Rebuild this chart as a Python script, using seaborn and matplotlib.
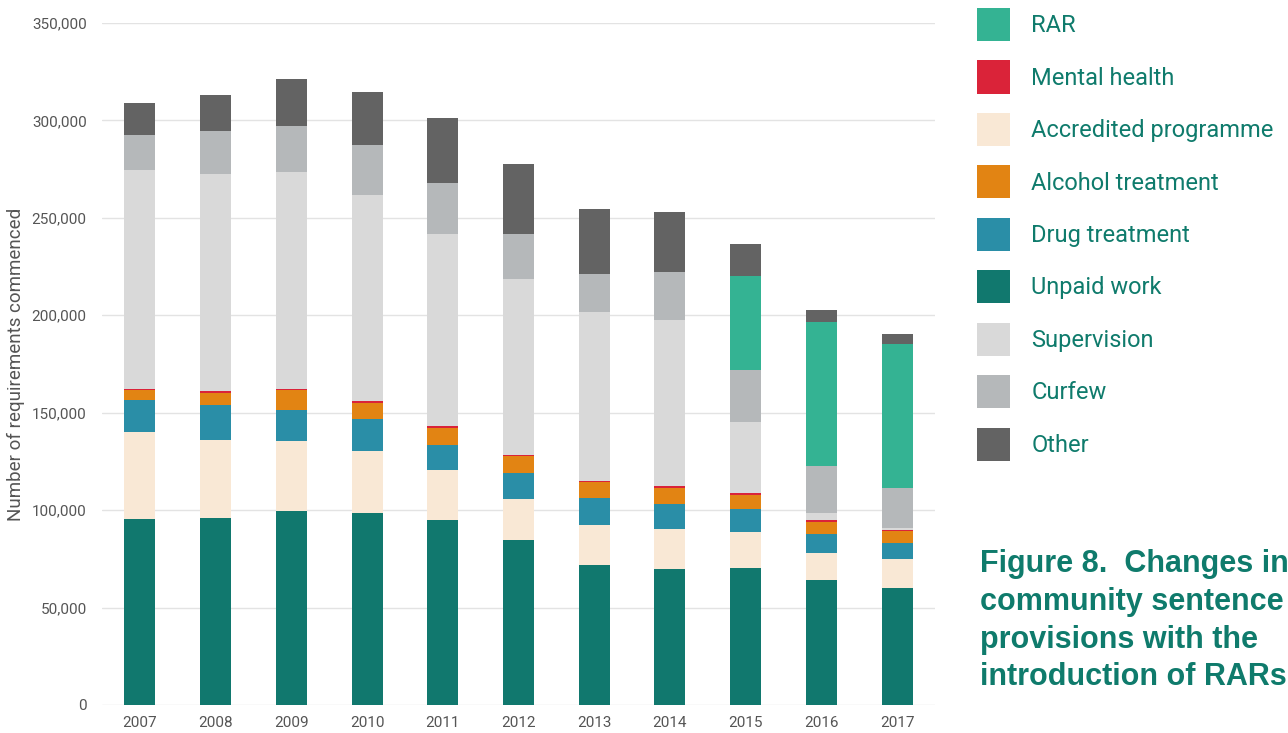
#!/usr/bin/env python3
"""
Stacked bar chart: community sentence requirements commenced, 2007-2017,
with the introduction of RARs.
"""

import numpy as np
import pandas as pd
import seaborn as sns
import matplotlib.pyplot as plt
from matplotlib.patches import Patch

# Data (requirements commenced)
years = ['2007', '2008', '2009', '2010', '2011', '2012',
         '2013', '2014', '2015', '2016', '2017']

unpaid_work = [95400, 96100, 99500, 98500, 94900, 84600,
               71600, 69900, 70400, 64200, 60100]
accredited = [44900, 40100, 36000, 31700, 25500, 21100,
              20700, 20400, 18500, 13600, 14600]
drug_treatment = [16100, 17600, 16100, 16400, 13200, 13200,
                  13700, 13000, 11800, 10100, 8400]
alcohol_treatment = [5100, 6500, 9900, 8400, 8400, 8900,
                     8400, 8200, 7200, 6000, 6000]
mental_health = [900, 900, 900, 1200, 1200, 700,
                 700, 700, 700, 1000, 700]
supervision = [112000, 111500, 111300, 105700, 98500, 90100,
               86700, 85300, 36500, 3600, 1000]
curfew = [18000, 21900, 23500, 25500, 26200, 23100,
          19500, 24700, 26900, 24000, 20700]
rar = [0, 0, 0, 0, 0, 0, 0, 0, 48300, 73800, 73700]
other = [16800, 18500, 24300, 27300, 33600, 36100,
         33100, 30800, 16100, 6500, 5100]

# stacking order, bottom to top
layers = [
    ('Unpaid work', unpaid_work, '#11786e'),
    ('Accredited programme', accredited, '#f9e8d5'),
    ('Drug treatment', drug_treatment, '#2a8ea7'),
    ('Alcohol treatment', alcohol_treatment, '#e28413'),
    ('Mental health', mental_health, '#da2339'),
    ('Supervision', supervision, '#d9d9d9'),
    ('Curfew', curfew, '#b5b8ba'),
    ('RAR', rar, '#34b393'),
    ('Other', other, '#636363'),
]

legend_order = ['RAR', 'Mental health', 'Accredited programme',
                'Alcohol treatment', 'Drug treatment', 'Unpaid work',
                'Supervision', 'Curfew', 'Other']

TEAL = '#0f7b6c'
TICK_GREY = '#555555'

sns.set_theme(style='whitegrid')
plt.rcParams['font.family'] = ['Roboto', 'DejaVu Sans']

fig = plt.figure(figsize=(12.88, 7.33), dpi=100)
ax = fig.add_axes([102 / 1288, 28 / 733, 833 / 1288, 682 / 733])

# cumulative tops, drawn from the top layer down so each bar covers the one above
df = pd.DataFrame({name: vals for name, vals, _ in layers}, index=years)
cum = df.cumsum(axis=1)
for name, _, color in reversed(layers):
    sns.barplot(x=years, y=cum[name].values, color=color, width=0.41,
                saturation=1, ax=ax, linewidth=0, zorder=2)

ax.set_ylim(0, 350000)
ax.set_xlim(-0.5, len(years) - 0.5)
ax.set_yticks(np.arange(0, 350001, 50000))
ax.set_yticklabels([f'{v:,}' for v in range(0, 350001, 50000)])
ax.tick_params(axis='both', length=0, labelsize=11, labelcolor=TICK_GREY)
ax.tick_params(axis='y', pad=11)
ax.tick_params(axis='x', pad=8)
ax.set_ylabel('Number of requirements commenced', fontsize=13.5,
              color=TICK_GREY, labelpad=5)
ax.set_xlabel('')
ax.grid(axis='y', color='#e3e3e3', linewidth=1)
ax.grid(axis='x', visible=False)
ax.set_axisbelow(True)
for spine in ax.spines.values():
    spine.set_visible(False)

# legend on the right
color_map = {name: color for name, _, color in layers}
handles = [Patch(facecolor=color_map[n], edgecolor='none') for n in legend_order]
fig.legend(handles, legend_order, loc='upper left',
           bbox_to_anchor=(977 / 1288, 1 - 8 / 733), frameon=False,
           fontsize=17, labelcolor=TEAL, handlelength=1.4, handleheight=1.78,
           handletextpad=0.9, labelspacing=0.82, borderpad=0,
           borderaxespad=0)

# figure caption
fig.text(980 / 1288, 1 - 549 / 733,
         'Figure 8.  Changes in\ncommunity sentence\nprovisions with the\nintroduction of RARs',
         fontsize=22, fontweight='bold', color=TEAL, ha='left', va='top',
         linespacing=1.34, family=['Liberation Sans', 'DejaVu Sans'])

fig.savefig('out.png', dpi=100)
